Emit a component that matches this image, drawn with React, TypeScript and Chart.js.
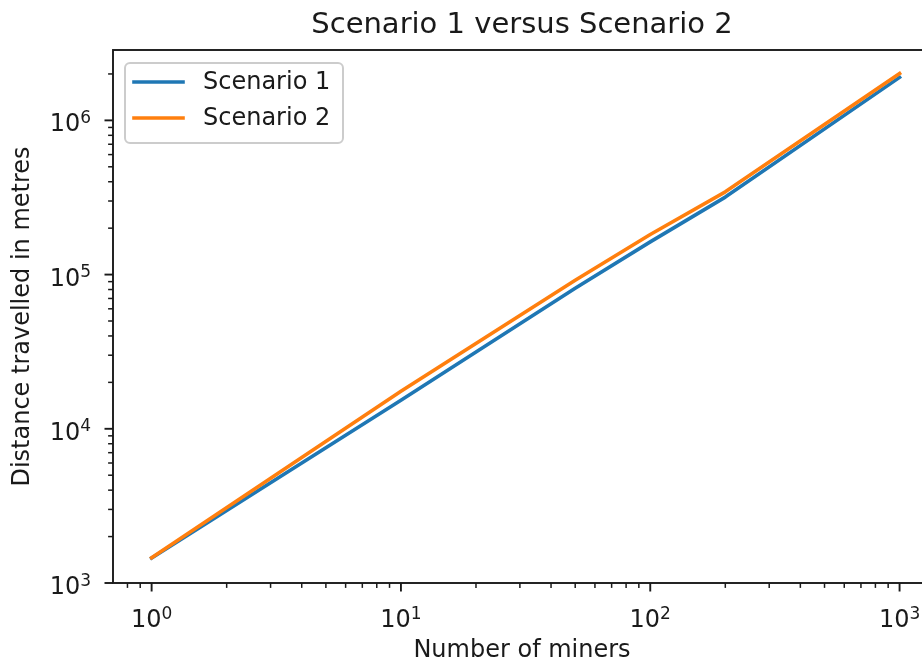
import React, { useEffect, useRef } from 'react';
import { Chart, registerables } from 'chart.js';

Chart.register(...registerables);

// ---- data ----
const miners = [1, 10, 50, 100, 200, 1000];
const scenario1 = [1450, 15300, 81500, 163000, 318000, 1900000];
const scenario2 = [1460, 17500, 92000, 182000, 344000, 2010000];
const seriesLabels = ['Scenario 1', 'Scenario 2'];
const seriesColors = ['#1f77b4', '#ff7f0e'];
const xMajorTicks = [1, 10, 100, 1000];
const yMajorTicks = [1e3, 1e4, 1e5, 1e6];
const xLimits = [0.708, 1413];
const yLimits = [1000, 2.86e6];
const titleText = 'Scenario 1 versus Scenario 2';
const xTitle = 'Number of miners';
const yTitle = 'Distance travelled in metres';

const FONT = '"DejaVu Sans", sans-serif';
const TEXT = '#1a1a1a';

function minorTicks(lo: number, hi: number): number[] {
  const out: number[] = [];
  for (let d = Math.floor(Math.log10(lo)); d <= Math.ceil(Math.log10(hi)); d++) {
    for (let m = 2; m <= 9; m++) {
      const v = m * Math.pow(10, d);
      if (v >= lo && v <= hi) out.push(v);
    }
  }
  return out;
}

// draws "10^n" with a raised exponent; anchor: 'center' or 'right'
function drawPow(ctx: CanvasRenderingContext2D, v: number, x: number, baseline: number, anchor: 'center' | 'right') {
  const base = '10';
  const exp = String(Math.round(Math.log10(v)));
  ctx.font = `24px ${FONT}`;
  const wb = ctx.measureText(base).width;
  ctx.font = `17px ${FONT}`;
  const we = ctx.measureText(exp).width;
  const total = wb + we;
  const left = anchor === 'center' ? x - total / 2 : x - total;
  ctx.textAlign = 'left';
  ctx.textBaseline = 'alphabetic';
  ctx.fillStyle = TEXT;
  ctx.font = `24px ${FONT}`;
  ctx.fillText(base, left, baseline);
  ctx.font = `17px ${FONT}`;
  ctx.fillText(exp, left + wb, baseline - 8.5);
}

const decor = {
  id: 'decor',
  afterDraw(chart: any) {
    const { ctx, chartArea: a, scales } = chart;
    const xs = scales.x;
    const ys = scales.y;
    ctx.save();
    ctx.strokeStyle = TEXT;
    ctx.lineCap = 'butt';
    const xt = (v: number, len: number, w: number) => {
      const px = xs.getPixelForValue(v);
      ctx.lineWidth = w;
      ctx.beginPath();
      ctx.moveTo(px, a.bottom);
      ctx.lineTo(px, a.bottom + len);
      ctx.stroke();
    };
    const yt = (v: number, len: number, w: number) => {
      const py = ys.getPixelForValue(v);
      ctx.lineWidth = w;
      ctx.beginPath();
      ctx.moveTo(a.left, py);
      ctx.lineTo(a.left - len, py);
      ctx.stroke();
    };
    xMajorTicks.forEach((v) => xt(v, 8.5, 1.9));
    minorTicks(xLimits[0], xLimits[1]).forEach((v) => xt(v, 4.9, 1.5));
    yMajorTicks.forEach((v) => yt(v, 8.5, 1.9));
    minorTicks(yLimits[0], yLimits[1]).forEach((v) => yt(v, 4.9, 1.5));

    // tick labels
    xMajorTicks.forEach((v) => drawPow(ctx, v, xs.getPixelForValue(v), a.bottom + 44, 'center'));
    yMajorTicks.forEach((v) => drawPow(ctx, v, a.left - 22, ys.getPixelForValue(v) + 11, 'right'));

    // spines
    ctx.strokeStyle = TEXT;
    ctx.lineWidth = 1.9;
    ctx.strokeRect(a.left, a.top, a.right - a.left, a.bottom - a.top);

    // legend
    const lx = a.left + 12;
    const ly = a.top + 13;
    ctx.beginPath();
    (ctx as any).roundRect(lx, ly, 218, 80, 5);
    ctx.fillStyle = 'rgba(255,255,255,0.8)';
    ctx.fill();
    ctx.strokeStyle = '#cccccc';
    ctx.lineWidth = 2;
    ctx.stroke();
    chart.data.datasets.forEach((ds: any, i: number) => {
      const cy = ly + 19 + i * 36;
      ctx.strokeStyle = ds.borderColor;
      ctx.lineWidth = 3.6;
      ctx.lineCap = 'square';
      ctx.beginPath();
      ctx.moveTo(lx + 9, cy);
      ctx.lineTo(lx + 58, cy);
      ctx.stroke();
      ctx.fillStyle = TEXT;
      ctx.font = `24px ${FONT}`;
      ctx.textAlign = 'left';
      ctx.textBaseline = 'middle';
      ctx.fillText(ds.label, lx + 78, cy + 1);
    });

    // titles
    const cx = (a.left + a.right) / 2;
    ctx.fillStyle = TEXT;
    ctx.textAlign = 'center';
    ctx.textBaseline = 'middle';
    ctx.font = `29px ${FONT}`;
    ctx.fillText(titleText, cx - 3, 25);
    ctx.font = `24px ${FONT}`;
    ctx.fillText(xTitle, cx - 3, 651);
    ctx.save();
    ctx.translate(23, (a.top + a.bottom) / 2);
    ctx.rotate(-Math.PI / 2);
    ctx.fillText(yTitle, 0, 0);
    ctx.restore();
    ctx.restore();
  },
};

export default function App() {
  const ref = useRef<HTMLCanvasElement>(null);
  useEffect(() => {
    if (!ref.current) return;
    const chart = new Chart(ref.current, {
      type: 'line',
      data: {
        datasets: [
          {
            label: seriesLabels[0],
            data: miners.map((m, i) => ({ x: m, y: scenario1[i] })),
            borderColor: seriesColors[0],
            backgroundColor: seriesColors[0],
            borderWidth: 3.6,
            pointRadius: 0,
            borderCapStyle: 'square',
            borderJoinStyle: 'round',
            order: 2,
          },
          {
            label: seriesLabels[1],
            data: miners.map((m, i) => ({ x: m, y: scenario2[i] })),
            borderColor: seriesColors[1],
            backgroundColor: seriesColors[1],
            borderWidth: 3.6,
            pointRadius: 0,
            borderCapStyle: 'square',
            borderJoinStyle: 'round',
            order: 1,
          },
        ],
      },
      options: {
        animation: false,
        responsive: false,
        devicePixelRatio: 1,
        layout: { padding: { top: 50, right: 8, left: 0, bottom: 0 } },
        plugins: { legend: { display: false }, title: { display: false }, tooltip: { enabled: false } },
        scales: {
          x: {
            type: 'logarithmic',
            min: xLimits[0],
            max: xLimits[1],
            afterBuildTicks: (s: any) => {
              s.ticks = xMajorTicks.map((v) => ({ value: v }));
            },
            afterFit: (s: any) => {
              s.height = 82;
            },
            grid: { display: false, drawTicks: false },
            border: { display: false },
            ticks: { display: false },
          },
          y: {
            type: 'logarithmic',
            min: yLimits[0],
            max: yLimits[1],
            afterBuildTicks: (s: any) => {
              s.ticks = yMajorTicks.map((v) => ({ value: v }));
            },
            afterFit: (s: any) => {
              s.width = 113;
            },
            grid: { display: false, drawTicks: false },
            border: { display: false },
            ticks: { display: false },
          },
        },
      } as any,
      plugins: [decor],
    });
    return () => chart.destroy();
  }, []);
  return (
    <div style={{ position: 'absolute', left: 0, top: 0, width: 922, height: 665, overflow: 'hidden', background: '#fff' }}>
      <canvas ref={ref} width={945} height={665} style={{ width: 945, height: 665, display: 'block' }} />
    </div>
  );
}
